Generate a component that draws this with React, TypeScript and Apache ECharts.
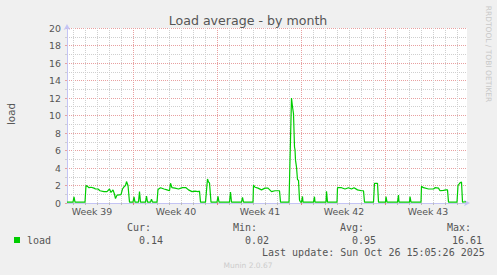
import React, { useEffect, useRef } from "react";
import * as echarts from "echarts";

// time axis: hours since the left edge of the plot (one month window = 800 h)
const hours = [
  0, 12, 14, 16, 36, 38, 41, 44, 48, 54, 57, 62, 66, 74, 80, 85, 88, 92, 95, 97,
  100, 108, 111, 114, 117, 119, 122, 125, 132, 134, 136, 143, 145, 147, 157, 159, 161, 167, 169, 171,
  180, 182, 187, 194, 200, 205, 207, 210, 216, 223, 228, 231, 238, 243, 250, 256, 262, 265, 267, 277,
  281, 283, 285, 288, 300, 302, 304, 325, 327, 329, 349, 351, 353, 372, 373, 376, 382, 389, 396, 402,
  409, 416, 425, 427, 444, 449, 451, 453, 455, 456, 457, 459, 461, 463, 465, 467, 469, 471, 472, 493,
  495, 496, 518, 519, 521, 540, 541, 549, 556, 563, 569, 574, 581, 589, 593, 595, 613, 615, 621, 623,
  637, 638, 640, 661, 663, 664, 685, 686, 688, 708, 709, 713, 723, 733, 736, 743, 746, 753, 758, 761,
  763, 780, 782, 786, 789, 791, 798,
];
const load = [
  0.1, 0.1, 0.7, 0.1, 0.1, 2.0, 1.9, 1.75, 1.8, 1.7, 1.6, 1.6, 1.4, 1.3, 1.3, 1.6, 1.2, 1.5, 1.0, 0.5,
  0.9, 0.95, 1.6, 1.85, 2.0, 2.45, 2.0, 0.1, 0.1, 0.7, 0.1, 0.1, 1.3, 0.1, 0.1, 0.8, 0.1, 0.1, 0.45, 0.1,
  0.1, 1.55, 1.75, 1.6, 1.5, 1.4, 2.25, 1.75, 1.7, 1.6, 1.7, 1.75, 1.75, 1.5, 1.3, 1.35, 1.3, 1.35, 0.1, 0.1,
  2.75, 2.4, 2.3, 0.1, 0.1, 0.75, 0.1, 0.1, 1.25, 0.1, 0.1, 0.65, 0.1, 0.1, 2.05, 1.8, 1.7, 1.5, 1.7, 1.7,
  1.3, 1.4, 1.4, 0.1, 0.1, 12.0, 11.0, 10.2, 6.4, 6.1, 4.9, 4.1, 2.65, 2.6, 0.35, 0.1, 0.1, 0.75, 0.1, 0.1,
  0.72, 0.1, 0.1, 1.35, 0.1, 0.1, 1.75, 1.75, 1.6, 1.75, 1.6, 1.75, 1.5, 1.4, 1.4, 0.1, 0.1, 2.25, 2.25, 0.1,
  0.1, 0.72, 0.1, 0.1, 0.9, 0.1, 0.1, 0.72, 0.1, 0.1, 1.9, 1.75, 1.6, 1.6, 1.75, 1.7, 1.4, 1.45, 1.5, 1.5,
  0.1, 0.1, 2.0, 2.3, 2.4, 0.1, 0.14,
];

const weekLabels = ["Week 39", "Week 40", "Week 41", "Week 42", "Week 43"];
const weekLabelHours = [50, 218, 386, 554, 722];
const weekStartHours = [132, 300, 468, 636];
const firstDayLine = 12;
const hoursPerDay = 24;
const windowHours = 800;

const statNames = ["Cur:", "Min:", "Avg:", "Max:"];
const statValues = ["0.14", "0.02", "0.95", "16.61"];
const statNameX = [127, 233, 340, 447];
const statValueX = [139, 245, 352, 452];

const GREEN = "#00cc00";
const TEXT = "#555555";
const AXIS = "#c4c4f4";
const MGRID = "#e8a0a0";
const GRID = "#cfcfcf";

export default function App() {
  const ref = useRef<HTMLDivElement>(null);
  useEffect(() => {
    if (!ref.current) return;
    const chart = echarts.init(ref.current, null, { renderer: "svg" });

    const dayLines: number[] = [];
    for (let h = firstDayLine; h < windowHours; h += hoursPerDay) dayLines.push(h);
    const minorDays = dayLines.filter((h) => weekStartHours.indexOf(h) < 0);

    const mono = "DejaVu Sans Mono";
    const graphics: any[] = [
      {
        type: "text", x: 248, y: 20,
        style: { text: "Load average - by month", fill: TEXT, font: "12.6px DejaVu Sans", textAlign: "center", textVerticalAlign: "middle" },
      },
      {
        type: "text", x: 11, y: 114, rotation: Math.PI / 2,
        style: { text: "load", fill: TEXT, font: "10.3px DejaVu Sans", textAlign: "center", textVerticalAlign: "middle" },
      },
      {
        type: "text", x: 488, y: 54, rotation: -Math.PI / 2,
        style: { text: "RRDTOOL / TOBI OETIKER", fill: "#c8c8c8", font: "7.5px DejaVu Sans", textAlign: "center", textVerticalAlign: "middle" },
      },
      { type: "rect", shape: { x: 14, y: 237, width: 6, height: 6 }, style: { fill: GREEN } },
      {
        type: "text", x: 27, y: 240,
        style: { text: "load", fill: TEXT, font: `10px ${mono}`, textAlign: "left", textVerticalAlign: "middle" },
      },
      {
        type: "text", x: 262, y: 252,
        style: { text: "Last update: Sun Oct 26 15:05:26 2025", fill: TEXT, font: `10px ${mono}`, textAlign: "left", textVerticalAlign: "middle" },
      },
      {
        type: "text", x: 248, y: 265,
        style: { text: "Munin 2.0.67", fill: "#cccccc", font: "7.5px DejaVu Sans", textAlign: "center", textVerticalAlign: "middle" },
      },
    ];
    statNames.forEach((n, i) => {
      graphics.push({
        type: "text", x: statNameX[i], y: 227,
        style: { text: n, fill: TEXT, font: `10px ${mono}`, textAlign: "left", textVerticalAlign: "middle" },
      });
      graphics.push({
        type: "text", x: statValueX[i], y: 240,
        style: { text: statValues[i], fill: TEXT, font: `10px ${mono}`, textAlign: "left", textVerticalAlign: "middle" },
      });
    });

    chart.setOption({
      animation: false,
      backgroundColor: "#f0f0f0",
      textStyle: { fontFamily: "DejaVu Sans" },
      grid: { left: 67, top: 28, width: 400, height: 175, show: true, backgroundColor: "#ffffff", borderWidth: 0 },
      xAxis: [
        {
          type: "value", min: 0, max: windowHours,
          axisLine: { show: true, lineStyle: { color: AXIS, width: 1 }, symbol: ["none", "arrow"], symbolSize: [5, 6], symbolOffset: [0, 3] },
          axisTick: { show: true, customValues: dayLines, length: 2, lineStyle: { color: "#bbbbbb" } },
          axisLabel: {
            customValues: weekLabelHours,
            formatter: (v: number) => weekLabels[weekLabelHours.indexOf(v)] ?? "",
            color: TEXT, fontSize: 9.4, margin: 4,
          },
          splitLine: { show: false },
        },
        {
          type: "value", min: 0, max: windowHours, position: "bottom",
          axisLine: { show: false },
          axisTick: { show: true, customValues: weekStartHours, length: 2, lineStyle: { color: "#e08080" } },
          axisLabel: { show: false },
          splitLine: { show: false },
        },
      ],
      yAxis: {
        type: "value", min: 0, max: 20, interval: 2,
        axisLine: { show: true, lineStyle: { color: AXIS, width: 1 }, symbol: ["none", "arrow"], symbolSize: [5, 6], symbolOffset: [0, 4] },
        axisTick: { show: true, length: 2, lineStyle: { color: MGRID } },
        axisLabel: { color: TEXT, fontSize: 9.4, margin: 6 },
        splitLine: { show: true, lineStyle: { color: MGRID, type: [1, 1], width: 1 } },
        minorTick: { show: true, splitNumber: 2, length: 2, lineStyle: { color: GRID } },
        minorSplitLine: { show: true, lineStyle: { color: GRID, type: [1, 1], width: 1 } },
      },
      series: [
        {
          type: "line", data: [], z: 1, silent: true,
          markLine: {
            silent: true, symbol: ["none", "none"], label: { show: false },
            lineStyle: { color: GRID, type: [1, 1], width: 1 },
            emphasis: { disabled: true },
            data: minorDays.map((h) => ({ xAxis: h })),
          },
        },
        {
          type: "line", data: [], z: 1, silent: true,
          markLine: {
            silent: true, symbol: ["none", "none"], label: { show: false },
            lineStyle: { color: MGRID, type: [1, 1], width: 1 },
            emphasis: { disabled: true },
            data: weekStartHours.map((h) => ({ xAxis: h })),
          },
        },
        {
          type: "line", z: 5, silent: true, showSymbol: false,
          data: hours.map((h, i) => [h, load[i]]),
          lineStyle: { color: GREEN, width: 1.2 },
          itemStyle: { color: GREEN },
        },
      ],
      graphic: graphics,
    });
    return () => chart.dispose();
  }, []);
  return <div ref={ref} style={{ position: "fixed", left: 0, top: 0, width: 497, height: 275 }} />;
}
